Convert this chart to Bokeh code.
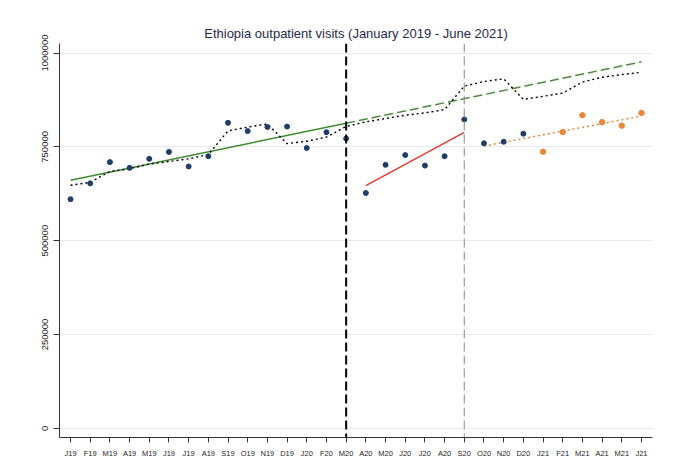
from bokeh.plotting import figure
from bokeh.models import Range1d, FixedTicker, Span
from bokeh.embed import file_html
from bokeh.resources import INLINE

# ---- data ----
month_labels = ["J19", "F19", "M19", "A19", "M19", "J19", "J19", "A19", "S19", "O19", "N19", "D19",
                "J20", "F20", "M20", "A20", "M20", "J20", "J20", "A20", "S20", "O20", "N20", "D20",
                "J21", "F21", "M21", "A21", "M21", "J21"]

observed = [610500, 652700, 709300, 694000, 718000, 736500, 697700, 725000, 814000, 792000,
            803000, 804000, 747000, 789000, 772000, 627000, 702000, 728000, 700000, 725000,
            823000, 759500, 763500, 785000]

recent = [737000, 789400, 834300, 815800, 806500, 840400]

smoothed = [647500, 655500, 684500, 691600, 704000, 711000, 718000, 729500, 792500, 802500,
            811000, 758500, 765000, 776000, 804500, 816600, 825500, 834300, 840400, 849300,
            911800, 924200, 931300, 876600, 884500, 893300, 922500, 935500, 942600, 948500]

pre_trend_months = [0, 14]
pre_trend = [660700, 813000]
proj_trend_months = [14, 29]
proj_trend = [813000, 976500]
covid_trend_months = [15, 20]
covid_trend = [646700, 788500]
recovery_trend_months = [21, 29]
recovery_trend = [752000, 832000]

covid_start = 14
recovery_start = 20

y_ticks = [0, 250000, 500000, 750000, 1000000]

# ---- figure ----
months = list(range(len(month_labels)))

p = figure(width=664, height=460, output_backend="svg", toolbar_location=None,
           x_range=Range1d(-0.56, 29.56), y_range=Range1d(-24600, 1025400),
           min_border_left=59, min_border_right=12, min_border_top=43, min_border_bottom=20,
           title="Ethiopia outpatient visits (January 2019 - June 2021)")

p.title.align = "center"
p.title.text_font = "Liberation Sans"
p.title.text_font_size = "13px"
p.title.text_font_style = "normal"
p.title.text_color = "#1f2a48"
p.title.offset = 0
p.title.standoff = 6

p.outline_line_color = None
p.background_fill_color = "white"
p.border_fill_color = "white"

p.xgrid.grid_line_color = None
p.ygrid.grid_line_color = "#e6e9ec"
p.ygrid.grid_line_width = 1

p.xaxis.ticker = FixedTicker(ticks=months)
p.xaxis.major_label_overrides = {i: lab for i, lab in enumerate(month_labels)}
p.xaxis.major_label_text_font = "Liberation Sans"
p.xaxis.major_label_text_font_size = "7.5px"
p.xaxis.major_label_text_color = "#222222"
p.xaxis.major_tick_in = 0
p.xaxis.major_tick_out = 5
p.xaxis.minor_tick_line_color = None
p.xaxis.major_label_standoff = 6
p.xaxis.axis_line_color = "#333333"
p.xaxis.major_tick_line_color = "#333333"

p.yaxis.ticker = FixedTicker(ticks=y_ticks)
p.yaxis.major_label_overrides = {t: str(t) for t in y_ticks}
p.yaxis.major_label_orientation = "vertical"
p.yaxis.major_label_text_font = "Liberation Sans"
p.yaxis.major_label_text_font_size = "9.5px"
p.yaxis.major_label_text_color = "#222222"
p.yaxis.major_tick_in = 0
p.yaxis.major_tick_out = 6
p.yaxis.minor_tick_line_color = None
p.yaxis.major_label_standoff = 5
p.yaxis.axis_line_color = "#333333"
p.yaxis.major_tick_line_color = "#333333"

# vertical markers
p.add_layout(Span(location=covid_start, dimension="height", line_color="black",
                  line_width=2, line_dash="9 4"))
p.add_layout(Span(location=recovery_start, dimension="height", line_color="#9a9a9a",
                  line_width=1.2, line_dash="9 4"))

# trend lines
p.line(pre_trend_months, pre_trend, line_color="#3c8a2e", line_width=1.5)
p.line(proj_trend_months, proj_trend, line_color="#4b8a3a", line_width=1.5, line_dash="9 4")
p.line(covid_trend_months, covid_trend, line_color="#e2362b", line_width=1.3)
p.line(recovery_trend_months, recovery_trend, line_color="#e8883a", line_width=1.5, line_dash="2 3")

# smoothed series
p.line(months, smoothed, line_color="black", line_width=1.4, line_dash="2 3")

# points
p.scatter(months[:len(observed)], observed, size=5, color="#1f3d66")
p.scatter(months[len(observed):], recent, size=5.5, color="#e8883a")

open("out.html", "w").write(file_html(p, INLINE))
